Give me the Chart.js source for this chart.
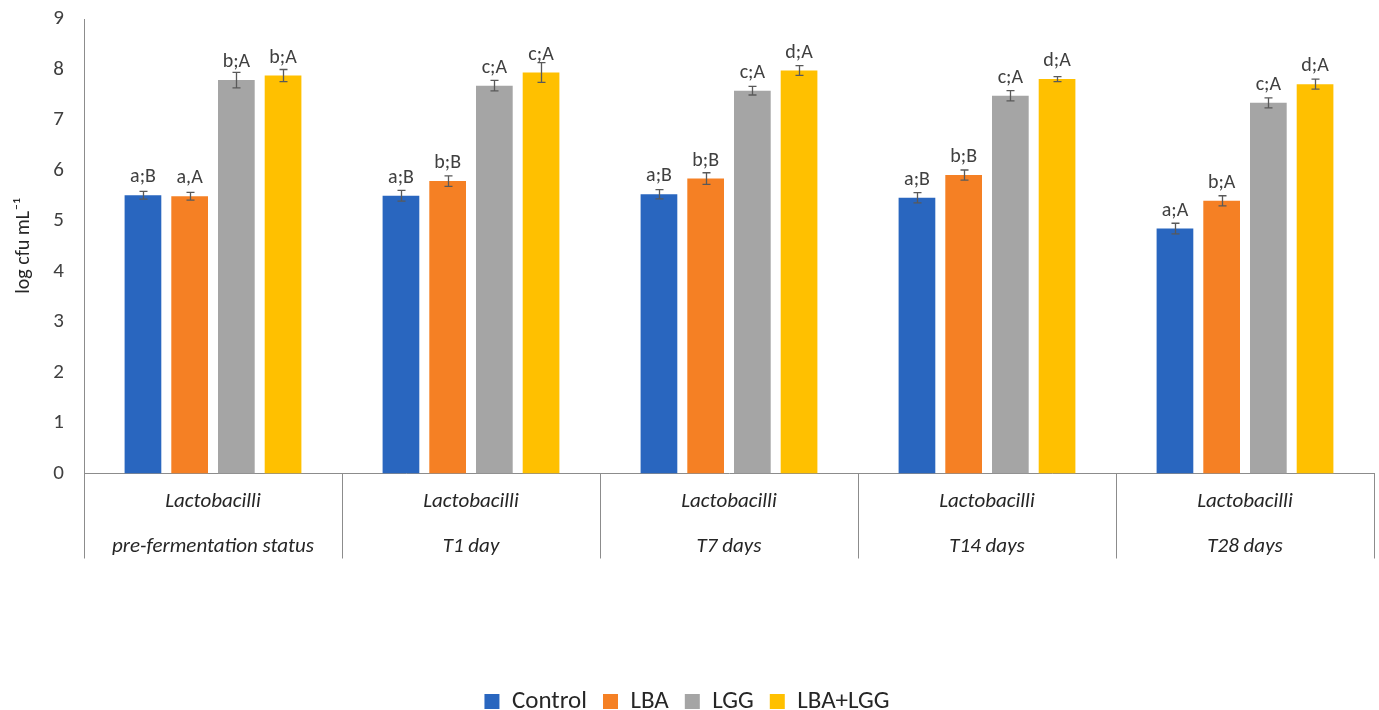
<!DOCTYPE html>
<html>
<head>
<meta charset="utf-8">
<title>Lactobacilli counts</title>
<script src="https://cdn.jsdelivr.net/npm/chart.js@4.4.1/dist/chart.umd.min.js"></script>
<style>
  html, body { margin: 0; padding: 0; background: #ffffff; }
  #wrap { width: 1379px; height: 710px; }
</style>
</head>
<body>
<div id="wrap"><canvas id="chart" width="1379" height="710"></canvas></div>
<script>
// Sampling times (two-line category labels)
const categories = [
  ['Lactobacilli', 'pre-fermentation status'],
  ['Lactobacilli', 'T1 day'],
  ['Lactobacilli', 'T7 days'],
  ['Lactobacilli', 'T14 days'],
  ['Lactobacilli', 'T28 days']
];

const seriesNames = ['Control', 'LBA', 'LGG', 'LBA+LGG'];

// Mean counts, log cfu mL-1
const controlValues = [5.51, 5.50, 5.53, 5.46, 4.85];
const lbaValues     = [5.49, 5.79, 5.84, 5.91, 5.40];
const lggValues     = [7.79, 7.68, 7.58, 7.48, 7.34];
const lbaLggValues  = [7.88, 7.94, 7.98, 7.81, 7.71];

// Standard deviations
const controlErrors = [0.075, 0.105, 0.09, 0.10, 0.105];
const lbaErrors     = [0.075, 0.105, 0.115, 0.10, 0.10];
const lggErrors     = [0.155, 0.105, 0.085, 0.10, 0.10];
const lbaLggErrors  = [0.12, 0.195, 0.095, 0.05, 0.10];

// Significance letters
const controlLetters = ['a;B', 'a;B', 'a;B', 'a;B', 'a;A'];
const lbaLetters     = ['a,A', 'b;B', 'b;B', 'b;B', 'b;A'];
const lggLetters     = ['b;A', 'c;A', 'c;A', 'c;A', 'c;A'];
const lbaLggLetters  = ['b;A', 'c;A', 'd;A', 'd;A', 'd;A'];

const yTicks = [0, 1, 2, 3, 4, 5, 6, 7, 8, 9];

const colors = ['#2966bf', '#f58024', '#a5a5a5', '#ffc000'];
const FONT = 'Carlito, Calibri, Lato, sans-serif';
const axisColor = '#8c8c8c';

const allValues = [controlValues, lbaValues, lggValues, lbaLggValues];
const allErrors = [controlErrors, lbaErrors, lggErrors, lbaLggErrors];
const allLetters = [controlLetters, lbaLetters, lggLetters, lbaLggLetters];

const datasets = seriesNames.map((name, i) => ({
  label: name,
  data: allValues[i],
  errors: allErrors[i],
  letters: allLetters[i],
  backgroundColor: colors[i],
  borderWidth: 0,
  categoryPercentage: 0.724,
  barPercentage: 0.786
}));

// Error bars with small caps, drawn from each dataset's error array
const errorBars = {
  id: 'errorBars',
  afterDatasetsDraw(chart) {
    const ctx = chart.ctx;
    const y = chart.scales.y;
    ctx.save();
    ctx.strokeStyle = '#595959';
    ctx.lineWidth = 1.3;
    chart.data.datasets.forEach((ds, di) => {
      const meta = chart.getDatasetMeta(di);
      meta.data.forEach((bar, i) => {
        const v = ds.data[i], e = ds.errors[i];
        const top = y.getPixelForValue(v + e);
        const bot = y.getPixelForValue(v - e);
        const x = Math.round(bar.x) + 0.5;
        ctx.beginPath();
        ctx.moveTo(x, top); ctx.lineTo(x, bot);
        ctx.moveTo(x - 4, top); ctx.lineTo(x + 4, top);
        ctx.moveTo(x - 4, bot); ctx.lineTo(x + 4, bot);
        ctx.stroke();
      });
    });
    ctx.restore();
  }
};

// Letter labels above each bar
const barLetters = {
  id: 'barLetters',
  afterDatasetsDraw(chart) {
    const ctx = chart.ctx;
    const y = chart.scales.y;
    ctx.save();
    ctx.fillStyle = '#404040';
    ctx.font = '20px ' + FONT;
    ctx.textAlign = 'center';
    ctx.textBaseline = 'alphabetic';
    chart.data.datasets.forEach((ds, di) => {
      const meta = chart.getDatasetMeta(di);
      meta.data.forEach((bar, i) => {
        ctx.fillText(ds.letters[i], bar.x, y.getPixelForValue(ds.data[i]) - 13);
      });
    });
    ctx.restore();
  }
};

new Chart(document.getElementById('chart'), {
  type: 'bar',
  data: { labels: categories, datasets },
  plugins: [errorBars, barLetters],
  options: {
    responsive: false,
    animation: false,
    devicePixelRatio: 1,
    layout: { padding: { top: 19, right: 5, left: 0, bottom: -14 } },
    plugins: {
      legend: {
        position: 'bottom',
        labels: {
          boxWidth: 15,
          boxHeight: 15,
          padding: 16,
          color: '#262626',
          font: { family: FONT, size: 25 }
        }
      },
      tooltip: { enabled: false }
    },
    scales: {
      x: {
        offset: true,
        grid: {
          display: true,
          offset: true,
          drawOnChartArea: false,
          drawTicks: true,
          tickLength: 85,
          color: axisColor,
          lineWidth: 1
        },
        border: { display: true, color: axisColor, width: 1 },
        ticks: {
          padding: -79,
          color: '#262626',
          maxRotation: 0,
          autoSkip: false,
          font: { family: FONT, size: 21, style: 'italic', lineHeight: '45px' }
        },
        afterFit(scale) { scale.height = 199.5; }
      },
      y: {
        min: 0,
        max: 9,
        afterBuildTicks(scale) { scale.ticks = yTicks.map(v => ({ value: v })); },
        grid: { display: false, drawTicks: false },
        border: { display: true, color: axisColor, width: 1 },
        ticks: {
          padding: 20,
          color: '#404040',
          font: { family: FONT, size: 21 }
        },
        title: {
          display: true,
          text: 'log cfu mL\u207B\u00B9',
          color: '#262626',
          font: { family: FONT, size: 20 },
          padding: { top: 12, bottom: 0 }
        },
        afterFit(scale) {
          scale.width = 84;
          scale.paddingTop = 0;
          scale.paddingBottom = 0;
        }
      }
    }
  }
});
</script>
</body>
</html>
